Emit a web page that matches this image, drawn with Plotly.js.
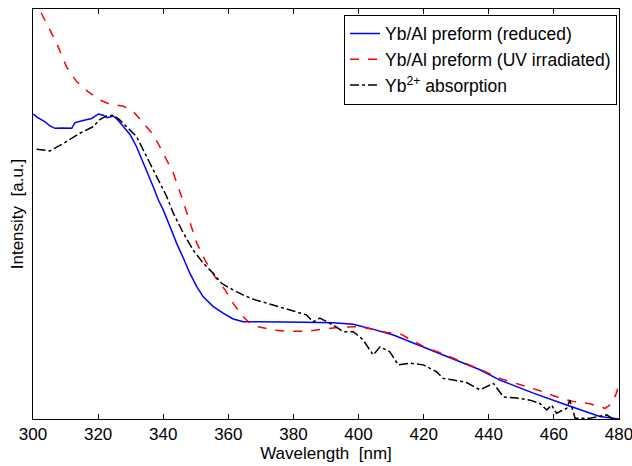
<!DOCTYPE html>
<html>
<head>
<meta charset="utf-8">
<script src="https://cdn.plot.ly/plotly-3.0.1.min.js"></script>
<style>html,body{margin:0;padding:0;background:#fff;}</style>
</head>
<body>
<div id="chart" style="width:632px;height:466px;"></div>
<script>
// Yb/Al preform (reduced)
const reducedX = [300.1,301.1,303.7,305.2,306.8,309.3,311.9,312.9,315.4,318.0,320.1,321.6,322.8,324.7,326.2,327.7,329.8,331.8,333.9,335.4,336.9,338.5,340.0,342.1,344.1,346.2,348.2,350.3,352.3,355.4,358.4,361.5,364.6,369.7,372.8,383.0,392.2,398.4,400.4,403.5,410.7,420.9,431.1,437.3,443.4,453.7,463.9,474.1,480.0];
const reducedY = [0.744,0.737,0.725,0.715,0.709,0.710,0.709,0.723,0.728,0.733,0.744,0.741,0.735,0.739,0.728,0.713,0.694,0.664,0.624,0.599,0.567,0.534,0.510,0.469,0.429,0.392,0.355,0.323,0.298,0.274,0.258,0.244,0.237,0.237,0.237,0.236,0.235,0.231,0.227,0.221,0.205,0.172,0.140,0.120,0.095,0.063,0.034,0.006,0.0];

// Yb/Al preform (UV irradiated)
const uvX = [300.0,302.1,304.2,307.3,310.3,313.4,317.0,320.6,323.6,327.7,330.8,333.9,337.0,340.0,343.1,345.7,347.7,350.3,352.8,355.9,359.0,361.5,364.1,366.6,369.2,373.8,377.9,384.0,389.2,394.3,399.4,403.5,408.6,412.7,419.9,425.0,432.2,438.3,443.4,449.6,455.7,461.9,465.9,471.1,475.7,477.7,479.2,480.0];
const uvY = [1.030,0.998,0.965,0.916,0.859,0.823,0.798,0.778,0.768,0.763,0.750,0.721,0.693,0.648,0.600,0.541,0.490,0.429,0.388,0.347,0.315,0.282,0.254,0.233,0.225,0.217,0.214,0.214,0.219,0.224,0.225,0.220,0.211,0.208,0.177,0.162,0.138,0.118,0.099,0.083,0.069,0.051,0.043,0.037,0.026,0.037,0.063,0.087];

// Yb2+ absorption
const ybX = [301.1,305.2,309.3,314.4,318.5,320.6,322.6,324.7,326.7,328.8,331.8,334.9,338.0,341.1,343.1,346.2,349.2,352.3,355.4,357.9,360.5,364.6,367.7,371.8,375.9,380.0,384.0,386.1,388.1,392.2,395.3,398.4,401.4,404.5,406.6,409.6,412.2,415.8,419.9,424.0,426.0,429.1,433.2,437.3,441.4,444.5,448.6,452.7,455.7,457.8,459.3,460.8,463.9,464.9,466.5,471.1,476.2,478.2];
const ybY = [0.658,0.654,0.672,0.697,0.713,0.731,0.739,0.741,0.729,0.713,0.689,0.640,0.591,0.542,0.502,0.453,0.412,0.380,0.355,0.331,0.319,0.302,0.292,0.282,0.272,0.262,0.254,0.237,0.246,0.229,0.213,0.213,0.193,0.156,0.176,0.164,0.132,0.136,0.132,0.115,0.099,0.095,0.089,0.071,0.087,0.054,0.051,0.046,0.038,0.022,0.034,0.014,0.026,0.046,0.002,0.002,0.010,0.0];

const tickVals = [300,320,340,360,380,400,420,440,460,480];

const FONT = 'Liberation Sans, Arial, Helvetica, sans-serif';

const traces = [
  {x: reducedX, y: reducedY, mode: 'lines', name: 'Yb/Al preform (reduced)',
   line: {color: '#0000ff', width: 1.5}},
  {x: uvX, y: uvY, mode: 'lines', name: 'Yb/Al preform (UV irradiated)',
   line: {color: '#ff0000', width: 1.5, dash: 'dash'}},
  {x: ybX, y: ybY, mode: 'lines', name: 'Yb<sup>2+</sup> absorption',
   line: {color: '#000000', width: 1.5, dash: 'dashdot'}}
];

const layout = {
  width: 632, height: 466,
  margin: {l: 33, r: 13, t: 9, b: 47},
  paper_bgcolor: '#ffffff', plot_bgcolor: '#ffffff',
  font: {family: FONT, size: 17, color: '#000'},
  showlegend: true,
  legend: {
    x: 0.9966, xanchor: 'right', y: 0.986, yanchor: 'top',
    bordercolor: '#000', borderwidth: 1, bgcolor: '#fff',
    font: {family: FONT, size: 17.5, color: '#000'},
    itemwidth: 30, tracegroupgap: 0
  },
  xaxis: {
    range: [300, 480], tickvals: tickVals, ticktext: tickVals.map(String),
    ticks: 'inside', ticklen: 5, tickcolor: '#000', tickwidth: 1,
    showline: true, linecolor: '#000', linewidth: 1, mirror: 'ticks',
    showgrid: false, zeroline: false, ticklabeloverflow: 'allow',
    tickfont: {family: FONT, size: 17, color: '#000'},
    title: {text: 'Wavelength\u00a0 [nm]', font: {family: FONT, size: 17, color: '#000'}, standoff: 1}
  },
  yaxis: {
    range: [0, 1], showticklabels: false, ticks: '',
    showline: true, linecolor: '#000', linewidth: 1, mirror: true,
    showgrid: false, zeroline: false,
    title: {text: 'Intensity\u00a0 [a.u.]', font: {family: FONT, size: 17, color: '#000'}, standoff: 4}
  }
};

Plotly.newPlot('chart', traces, layout, {displayModeBar: false, staticPlot: true});
</script>
</body>
</html>
